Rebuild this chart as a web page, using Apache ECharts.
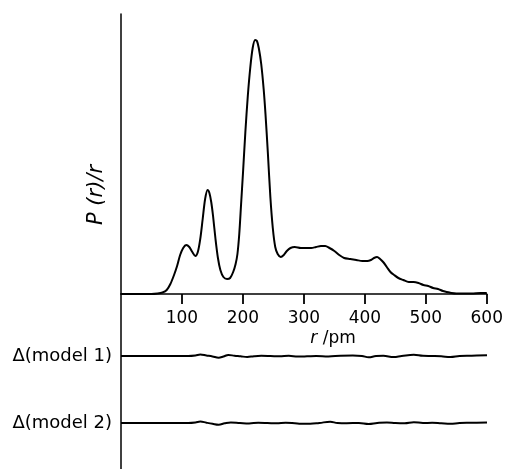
<!DOCTYPE html>
<html>
<head>
<meta charset="utf-8">
<script src="https://cdn.jsdelivr.net/npm/echarts@6/dist/echarts.min.js"></script>
<style>html,body{margin:0;padding:0;background:#fff;}#c{width:506px;height:469px;}</style>
</head>
<body>
<div id="c"></div>
<script>
// r / pm, P(r)/r (arbitrary units)
const rPr = [0,30,50,60,68,75,81,87,92,97,102,107,112,117,122,126,130,134,138,142,145,148,151,155,159,163,168,174,179,184,188,191,194,197,200,204,208,212,216,220,223,226,230,234,237,241,245,249,253,257,262,267,272,278,285,295,305,312,320,328,335,342,350,358,366,376,386,396,404,410,415,420,425,430,436,442,448,455,463,472,480,488,496,504,512,520,528,535,542,550,560,575,590,600];
const pr  = [0,0,0,0.5,1.5,4,10,19,28,39,46,49,47,42,38,42,55,75,95,104,101,92,78,55,36,24,17,15,16,22,30,40,60,90,120,162,198,226,246,254,253,246,230,205,180,140,97,66,47,40,37,39,43,46,47,46,46,46,47,48,48,46,43,39,36,35,34,33,33,34,36,37,35,32,27,22,19,16,14,12,12,11,9,8,6,5,3,2,1,0.5,0.5,0.5,1,1];

const rD1 = [0,110,122,130,140,150,160,168,176,186,196,207,218,230,245,260,275,290,305,320,340,360,380,395,406,418,430,447,460,480,495,510,525,540,555,575,600];
const d1  = [0,0,0.5,1.5,0.5,-0.5,-1.7,-0.5,1,0.3,-0.3,-1,-0.2,0.2,0,-0.3,0.2,-0.5,-0.3,0,-0.4,0.2,0.4,0,-1.3,0,0.2,-1,0,1.3,0.2,0,-0.3,-1,0,0.3,0.8];

const rD2 = [0,110,122,130,140,150,160,170,180,195,210,225,240,255,270,285,295,310,325,343,355,370,390,406,420,436,450,465,480,495,510,525,540,555,575,600];
const d2  = [0,0,0.5,1.5,0.3,-0.8,-1.7,-0.3,0.5,0,-0.4,0.2,0,-0.3,0.2,-0.3,-0.8,-0.8,0,1.3,0,-0.2,0,-1,0,0.6,0,-0.2,0.8,0,0.2,-0.3,-0.8,0,0.2,0.6];

const xTicks = [100,200,300,400,500,600];
const modelLabels = ['Δ(model 1)','Δ(model 2)'];
const xName = '{i|r} /pm';
const yName = 'P (r)/r';

const FONT = 'DejaVu Sans';
const zip = (a,b) => a.map((v,i)=>[v,b[i]]);
const mkLine = () => ({show:true, onZero:false, lineStyle:{color:'#000', width:1.5}});

// lower panel: one grid, two value scales (1 unit = 1 px); zero of model 2 sits 67 px below model 1
const M2_POS = -67;
const TICK_POS = 57;

const chart = echarts.init(document.getElementById('c'), null, {renderer:'canvas'});
chart.setOption({
  animation:false,
  backgroundColor:'#fff',
  grid:[
    {left:121, top:14, width:366, height:280},
    {left:121, top:294, width:366, height:175}
  ],
  xAxis:[
    {gridIndex:0, type:'value', min:0, max:600, interval:100, z:10,
     axisLine:mkLine(), splitLine:{show:false},
     axisTick:{show:true, length:10, lineStyle:{color:'#000', width:1.5}},
     axisLabel:{showMinLabel:false, margin:16, fontFamily:FONT, fontSize:17, color:'#000'}},
    {gridIndex:1, type:'value', min:0, max:600, show:false}
  ],
  yAxis:[
    {gridIndex:0, type:'value', min:0, max:280,
     axisLine:mkLine(), axisTick:{show:false}, axisLabel:{show:false}, splitLine:{show:false}},
    {gridIndex:1, type:'value', min:-113, max:62, position:'left',
     axisLine:mkLine(), axisTick:{show:false}, splitLine:{show:false},
     axisLabel:{customValues:[0, M2_POS], formatter:(v)=> v === 0 ? modelLabels[0] : modelLabels[1],
       margin:9, fontFamily:FONT, fontSize:18, color:'#000'}},
    {gridIndex:1, type:'value', min:-46, max:129, position:'right', show:false}
  ],
  graphic:[
    {type:'text', x:333, y:339, style:{text:xName, align:'center', verticalAlign:'middle',
      font:'17px "DejaVu Sans"', fill:'#000',
      rich:{i:{fontFamily:FONT, fontSize:17, fontStyle:'italic', fill:'#000'}}}},
    {type:'text', x:97, y:195, rotation:Math.PI/2, style:{text:yName, align:'center', verticalAlign:'middle',
      font:'italic 21px "DejaVu Sans"', fill:'#000'}}
  ],
  series:[
    {type:'line', xAxisIndex:0, yAxisIndex:0, data:zip(rPr,pr), smooth:0.3, showSymbol:false,
     lineStyle:{color:'#000', width:2}},
    {type:'line', xAxisIndex:1, yAxisIndex:1, data:zip(rD1,d1), smooth:0.4, showSymbol:false,
     lineStyle:{color:'#000', width:2}},
    {type:'line', xAxisIndex:1, yAxisIndex:2, data:zip(rD2,d2), smooth:0.4, showSymbol:false,
     lineStyle:{color:'#000', width:2}},
    // x-axis tick marks below the main plot
    {type:'scatter', xAxisIndex:1, yAxisIndex:1, data:xTicks.map(v=>[v, TICK_POS]), silent:true, clip:false,
     symbol:'rect', symbolSize:[1.5,10], itemStyle:{color:'#000'}}
  ]
});
</script>
</body>
</html>
